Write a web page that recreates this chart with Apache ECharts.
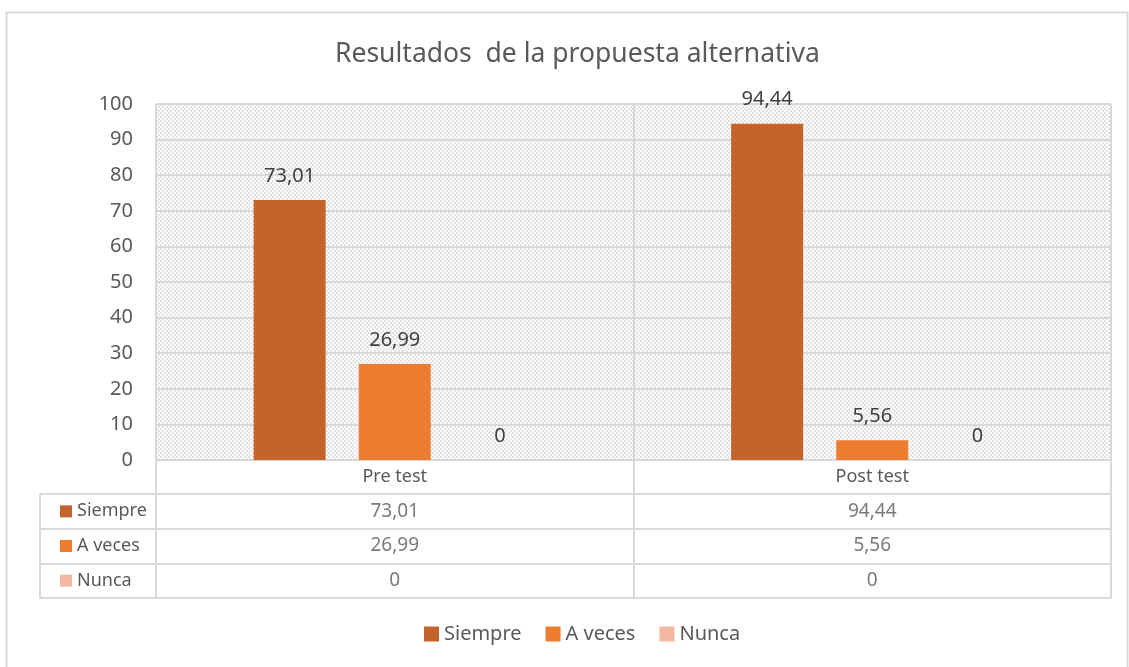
<!DOCTYPE html>
<html>
<head>
<meta charset="utf-8">
<script src="https://cdn.jsdelivr.net/npm/echarts@6/dist/echarts.min.js"></script>
<style>
  html, body { margin: 0; padding: 0; background: #fff; }
  #chart { width: 1129px; height: 667px; }
</style>
</head>
<body>
<div id="chart"></div>
<script>
// Data
const categories = ["Pre test", "Post test"]
const seriesNames = ["Siempre", "A veces", "Nunca"]
const siempre = [73.01, 94.44]
const aVeces = [26.99, 5.56]
const nunca = [0, 0]
const colors = ["#C4632A", "#ED7D31", "#F4B8A2"]

const values = [siempre, aVeces, nunca]
const fmt = (v) => String(v).replace(".", ",")
const textColor = "#595959"
const lineColor = "#d9d9d9"
const font = "'Noto Sans', 'Open Sans', sans-serif"

// hatched background for the plot area
function makePattern() {
  const c = document.createElement("canvas")
  c.width = 8
  c.height = 8
  const ctx = c.getContext("2d")
  ctx.fillStyle = "#ffffff"
  ctx.fillRect(0, 0, 8, 8)
  ctx.fillStyle = "#e2e2e2"
  for (let k = 0; k < 4; k++) {
    ctx.fillRect(2 * k, 2 * k, 2, 2)
    ctx.fillRect((2 * k + 4) % 8, 2 * k, 2, 2)
  }
  return c
}

// cells of the data table
const tableData = []
values.forEach((arr, s) => {
  arr.forEach((v, c) => {
    tableData.push([categories[c], seriesNames[s], v])
  })
})

const chart = echarts.init(document.getElementById("chart"))

const barSeries = seriesNames.map((name, i) => ({
  name: name,
  type: "bar",
  xAxisIndex: 0,
  yAxisIndex: 0,
  data: values[i],
  barWidth: 72,
  barGap: "46%",
  itemStyle: { color: colors[i] },
  label: {
    show: true,
    position: "top",
    distance: 14,
    color: "#404040",
    fontSize: 20,
    fontFamily: font,
    formatter: (p) => fmt(p.value),
  },
}))

const option = {
  animation: false,
  textStyle: { fontFamily: font },
  title: {
    text: "Resultados  de la propuesta alternativa",
    left: 330,
    top: 36,
    textStyle: {
      color: textColor,
      fontSize: 26.5,
      fontWeight: "normal",
      fontFamily: font,
    },
  },
  graphic: [
    {
      type: "rect",
      shape: { x: 6.5, y: 12.5, width: 1121, height: 700 },
      style: { fill: "none", stroke: lineColor, lineWidth: 2 },
      silent: true,
    },
  ],
  legend: {
    data: seriesNames,
    bottom: 18,
    left: 419,
    itemWidth: 15,
    itemHeight: 15,
    itemGap: 24,
    icon: "rect",
    textStyle: { color: textColor, fontSize: 20, fontFamily: font },
  },
  grid: [
    {
      left: 156,
      right: 18,
      top: 104,
      bottom: 207,
      show: true,
      borderColor: lineColor,
      borderWidth: 1,
      backgroundColor: { image: makePattern(), repeat: "repeat" },
    },
    {
      left: 156,
      right: 18,
      top: 494,
      bottom: 69,
      show: true,
      borderColor: lineColor,
      borderWidth: 1,
    },
  ],
  xAxis: [
    {
      type: "category",
      gridIndex: 0,
      data: categories,
      axisLine: { show: true, lineStyle: { color: lineColor, width: 2 } },
      axisTick: { show: true, length: 34, interval: 0, lineStyle: { color: lineColor, width: 2 } },
      splitLine: { show: true, interval: 0, lineStyle: { color: lineColor, width: 2 } },
      axisLabel: { color: textColor, fontSize: 18, margin: 8, fontFamily: font },
    },
    {
      type: "category",
      gridIndex: 1,
      data: categories,
      axisLine: { show: false },
      axisTick: { show: false },
      axisLabel: { show: false },
      splitLine: { show: true, interval: 0, lineStyle: { color: lineColor, width: 2 } },
    },
  ],
  yAxis: [
    {
      type: "value",
      gridIndex: 0,
      min: 0,
      max: 100,
      interval: 10,
      axisLine: { show: false },
      axisTick: { show: false },
      splitLine: { show: true, lineStyle: { color: lineColor, width: 2 } },
      axisLabel: { color: textColor, fontSize: 20, margin: 23, fontFamily: font },
    },
    {
      type: "category",
      gridIndex: 1,
      data: seriesNames,
      inverse: true,
      axisLine: { show: false },
      axisTick: { show: true, length: 116, interval: 0, lineStyle: { color: lineColor, width: 2 } },
      splitLine: { show: true, interval: 0, lineStyle: { color: lineColor, width: 2 } },
      axisLabel: {
        align: "left",
        margin: 96,
        color: textColor,
        fontSize: 18,
        fontFamily: font,
        formatter: (v) => {
          const i = seriesNames.indexOf(v)
          return "{s" + i + "|}{t|" + v + "}"
        },
        rich: {
          s0: { backgroundColor: colors[0], width: 12, height: 12 },
          s1: { backgroundColor: colors[1], width: 12, height: 12 },
          s2: { backgroundColor: colors[2], width: 12, height: 12 },
          t: { color: textColor, fontSize: 18, fontFamily: font, padding: [0, 0, 0, 5] },
        },
      },
    },
    {
      type: "category",
      gridIndex: 1,
      data: seriesNames,
      inverse: true,
      position: "left",
      offset: 116,
      axisLine: { show: true, lineStyle: { color: lineColor, width: 2 } },
      axisTick: { show: false },
      axisLabel: { show: false },
      splitLine: { show: false },
    },
  ],
  series: barSeries.concat([
    {
      name: "table",
      type: "scatter",
      xAxisIndex: 1,
      yAxisIndex: 1,
      data: tableData,
      symbolSize: 1,
      itemStyle: { color: "transparent" },
      label: {
        show: true,
        position: "inside",
        color: textColor,
        fontSize: 19,
        fontFamily: font,
        formatter: (p) => fmt(p.value[2]),
      },
      silent: true,
    },
  ]),
}

chart.setOption(option)
window.addEventListener("resize", () => chart.resize())
</script>
</body>
</html>
